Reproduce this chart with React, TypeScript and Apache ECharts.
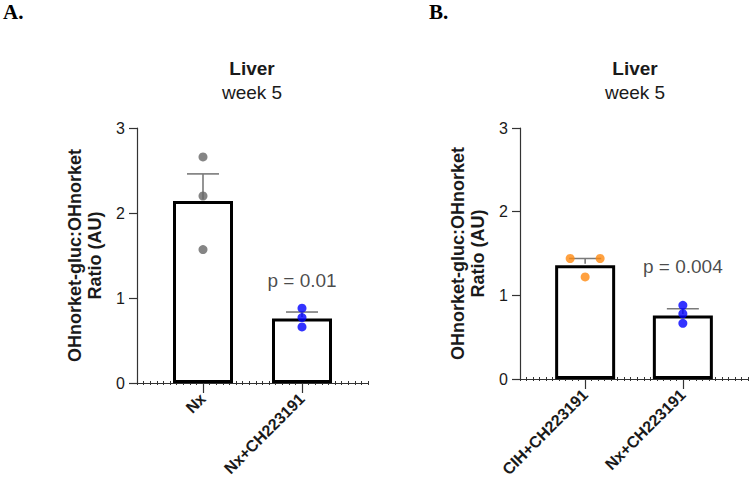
import React, { useEffect, useRef } from "react";
import * as echarts from "echarts";

// ---- Data ----
const catsA = ["Nx", "Nx+CH223191"];
const catsB = ["CIH+CH223191", "Nx+CH223191"];
const catPos = [1, 2.5];

const meansA = [2.14, 0.76];
const semsA = [0.32, 0.075];
const meansB = [1.36, 0.76];
const semsB = [0.08, 0.08];

// individual points: [x, y]
const pointsA_Nx = [[1, 2.66], [1, 2.2], [1, 1.57]];
const pointsA_NxCH = [[2.5, 0.88], [2.5, 0.77], [2.5, 0.66]];
const pointsB_CIH = [[0.77, 1.44], [1.23, 1.44], [1.0, 1.22]];
const pointsB_NxCH = [[2.5, 0.88], [2.5, 0.78], [2.5, 0.665]];

const pTextA = { x: 2.5, y: 1.21, text: "p = 0.01" };
const pTextB = { x: 2.5, y: 1.34, text: "p = 0.004" };

const yTicks = [0, 1, 2, 3];

const FONT = "'Liberation Sans', Arial, Helvetica, sans-serif";
const AXIS_COLOR = "#333";
const TEXT_COLOR = "#1a1a1a";

function makeXAxes(gridIndex: number, cats: string[]) {
  return [
    {
      type: "value",
      gridIndex,
      min: 0,
      max: 3.5,
      position: "bottom",
      axisLine: { show: true, onZero: false, lineStyle: { color: AXIS_COLOR, width: 1.2 } },
      splitLine: { show: false },
      axisTick: { show: true, customValues: catPos, length: 10, lineStyle: { color: AXIS_COLOR, width: 1.2 } },
      axisLabel: {
        customValues: catPos,
        formatter: (v: number) => {
          const i = catPos.indexOf(v);
          return i >= 0 ? cats[i] : "";
        },
        rotate: 45,
        margin: 13,
        color: TEXT_COLOR,
        fontFamily: FONT,
        fontWeight: "bold",
        fontSize: 16,
      },
    },
    {
      type: "value",
      gridIndex,
      min: 0,
      max: 35,
      interval: 1,
      position: "bottom",
      offset: -2,
      axisLine: { show: false },
      splitLine: { show: false },
      axisTick: { show: true, length: 4, lineStyle: { color: AXIS_COLOR, width: 1 } },
      axisLabel: { show: false },
    },
  ];
}

function makeYAxis(gridIndex: number) {
  return {
    type: "value",
    gridIndex,
    min: yTicks[0],
    max: yTicks[yTicks.length - 1],
    interval: 1,
    name: "OHnorket-gluc:OHnorket\nRatio (AU)",
    nameLocation: "middle",
    nameRotate: 90,
    nameGap: 32,
    nameTextStyle: {
      color: TEXT_COLOR,
      fontFamily: FONT,
      fontWeight: "bold",
      fontSize: 18,
      lineHeight: 20,
    },
    axisLine: { show: true, lineStyle: { color: AXIS_COLOR, width: 1.2 } },
    axisTick: { show: true, length: 8, lineStyle: { color: AXIS_COLOR, width: 1.2 } },
    splitLine: { show: false },
    axisLabel: { margin: 12, color: TEXT_COLOR, fontFamily: FONT, fontSize: 16 },
  };
}

function barSeries(xAxisIndex: number, yAxisIndex: number, means: number[]) {
  return {
    type: "bar",
    xAxisIndex,
    yAxisIndex,
    barWidth: 60,
    data: means.map((m, i) => [catPos[i], m]),
    itemStyle: { color: "#fff", borderColor: "#000", borderWidth: 3 },
    z: 2,
    silent: true,
  };
}

function errSeries(xAxisIndex: number, yAxisIndex: number, means: number[], sems: number[]) {
  return {
    type: "custom",
    xAxisIndex,
    yAxisIndex,
    z: 3,
    silent: true,
    encode: { x: 0, y: 1 },
    data: means.map((m, i) => [catPos[i], m, sems[i]]),
    renderItem: (_p: any, api: any) => {
      const x = api.value(0);
      const m = api.value(1);
      const e = api.value(2);
      const top = api.coord([x, m + e]);
      const base = api.coord([x, m]);
      const style = { stroke: "#7a7a7a", lineWidth: 1.6 };
      return {
        type: "group",
        children: [
          { type: "line", shape: { x1: top[0], y1: top[1], x2: base[0], y2: base[1] - 1.5 }, style },
          { type: "line", shape: { x1: top[0] - 16, y1: top[1], x2: top[0] + 16, y2: top[1] }, style },
        ],
      };
    },
  };
}

function pointSeries(xAxisIndex: number, yAxisIndex: number, pts: number[][], color: string) {
  return {
    type: "scatter",
    xAxisIndex,
    yAxisIndex,
    symbolSize: 9,
    z: 4,
    silent: true,
    itemStyle: { color },
    data: pts,
  };
}

function pSeries(xAxisIndex: number, yAxisIndex: number, p: { x: number; y: number; text: string }) {
  return {
    type: "scatter",
    xAxisIndex,
    yAxisIndex,
    symbolSize: 0,
    silent: true,
    z: 5,
    data: [[p.x, p.y]],
    label: {
      show: true,
      position: "inside",
      formatter: p.text,
      color: TEXT_COLOR,
      fontFamily: FONT,
      fontSize: 19,
    },
  };
}

export default function App() {
  const ref = useRef<HTMLDivElement>(null);
  useEffect(() => {
    if (!ref.current) return;
    const chart = echarts.init(ref.current, undefined, { renderer: "svg" });
    const xa = makeXAxes(0, catsA);
    const xb = makeXAxes(1, catsB);
    chart.setOption({
      animation: false,
      backgroundColor: "#fff",
      grid: [
        { left: 137, top: 128, width: 231, height: 255, outerBoundsMode: "none", containLabel: false },
        { left: 520, top: 128, width: 228, height: 251, outerBoundsMode: "none", containLabel: false },
      ],
      xAxis: [...xa, ...xb],
      yAxis: [makeYAxis(0), makeYAxis(1)],
      series: [
        barSeries(0, 0, meansA),
        errSeries(0, 0, meansA, semsA),
        pointSeries(0, 0, pointsA_Nx, "#666666"),
        pointSeries(0, 0, pointsA_NxCH, "#0000ff"),
        pSeries(0, 0, pTextA),
        barSeries(2, 1, meansB),
        errSeries(2, 1, meansB, semsB),
        pointSeries(2, 1, pointsB_CIH, "#ff8a10"),
        pointSeries(2, 1, pointsB_NxCH, "#0000ff"),
        pSeries(2, 1, pTextB),
      ],
      graphic: [
        { type: "text", x: 3, y: 12, style: { text: "A.", fill: "#000", font: "bold 21px 'Liberation Serif', 'Times New Roman', serif", textVerticalAlign: "middle" } },
        { type: "text", x: 429, y: 12, style: { text: "B.", fill: "#000", font: "bold 21px 'Liberation Serif', 'Times New Roman', serif", textVerticalAlign: "middle" } },
        { type: "text", x: 252, y: 68, style: { text: "Liver", fill: TEXT_COLOR, font: `bold 19px ${FONT}`, textAlign: "center", textVerticalAlign: "middle" } },
        { type: "text", x: 252, y: 92, style: { text: "week 5", fill: TEXT_COLOR, font: `19px ${FONT}`, textAlign: "center", textVerticalAlign: "middle" } },
        { type: "text", x: 635, y: 68, style: { text: "Liver", fill: TEXT_COLOR, font: `bold 19px ${FONT}`, textAlign: "center", textVerticalAlign: "middle" } },
        { type: "text", x: 635, y: 92, style: { text: "week 5", fill: TEXT_COLOR, font: `19px ${FONT}`, textAlign: "center", textVerticalAlign: "middle" } },
      ],
    });
    return () => chart.dispose();
  }, []);
  return (
    <div
      ref={ref}
      style={{ position: "fixed", left: 0, top: 0, width: 751, height: 484, background: "#fff" }}
    />
  );
}
